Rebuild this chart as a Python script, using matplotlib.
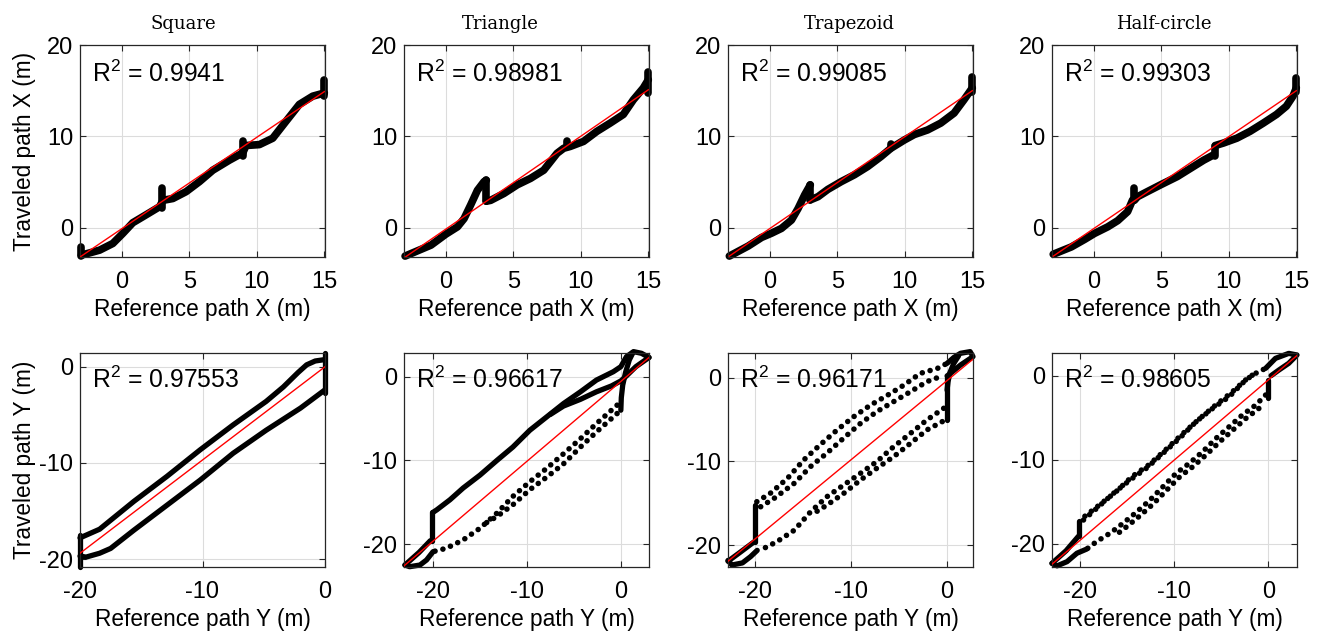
import matplotlib.pyplot as plt

plt.rcParams['font.family'] = ['Liberation Sans', 'DejaVu Sans']
plt.rcParams['mathtext.fontset'] = 'custom'
plt.rcParams['mathtext.rm'] = 'Liberation Sans'
plt.rcParams['axes.unicode_minus'] = False

shapes = ['Square', 'Triangle', 'Trapezoid', 'Half-circle']
r2_x = ['0.9941', '0.98981', '0.99085', '0.99303']
r2_y = ['0.97553', '0.96617', '0.96171', '0.98605']

# ---- X direction (top row): (reference, traveled) runs
sqx_runs = [
    ([-3.0, -1.65, -0.67, 0.07, 0.81, 1.55, 2.79, 3.05, 3.78, 4.76, 5.75, 6.74, 7.97, 8.96,
      9.2, 10.19, 11.18, 12.16, 13.15, 14.14, 15.0],
     [-3.0, -2.45, -1.72, -0.62, 0.55, 1.2, 2.3, 3.0, 3.2, 3.95, 5.05, 6.3, 7.4, 8.2,
      9.0, 9.1, 9.8, 11.65, 13.5, 14.4, 14.75]),
]
sqx_jumps = [(-3.0, -3.1, -2.1), (3.0, 2.2, 4.3), (9.0, 7.9, 9.45), (15.0, 14.4, 16.2)]

trx_runs = [
    ([-3.02, -1.1, 0.0, 0.86, 1.35, 1.84, 2.34, 2.83, 3.0],
     [-3.1, -1.9, -0.7, 0.1, 1.0, 2.5, 4.1, 5.05, 5.2]),
    ([3.0, 3.32, 4.3, 5.29, 6.27, 7.25, 8.24, 8.73, 9.22, 10.2, 11.19, 12.17, 13.15, 13.89,
      14.63, 15.0],
     [2.9, 3.0, 3.75, 4.7, 5.4, 6.3, 8.15, 8.7, 8.9, 9.45, 10.55, 11.45, 12.4, 14.0,
      15.3, 16.2]),
]
trx_jumps = [(3.0, 2.9, 5.2), (9.0, 8.9, 9.5), (15.0, 14.8, 17.0)]

tzx_runs = [
    ([-3.0, -1.6, -0.61, 0.12, 0.86, 1.6, 2.09, 2.58, 3.0],
     [-3.1, -2.0, -1.06, -0.6, -0.07, 0.84, 2.1, 3.6, 4.7]),
    ([3.0, 3.57, 4.3, 5.29, 6.27, 7.25, 8.24, 8.97, 9.96, 10.7, 11.68, 12.66, 13.65, 14.38, 15.0],
     [3.05, 3.4, 4.2, 5.05, 5.8, 6.7, 7.8, 8.7, 9.6, 10.2, 10.7, 11.45, 12.55, 14.0, 15.3]),
]
tzx_jumps = [(3.0, 3.0, 4.7), (9.0, 8.7, 9.2), (15.0, 14.9, 16.5)]

hcx_runs = [
    ([-3.01, -1.67, -0.69, 0.05, 1.03, 1.76, 2.5, 2.87],
     [-2.9, -2.1, -1.28, -0.62, 0.1, 0.77, 1.76, 3.04]),
    ([3.0, 3.24, 3.97, 4.95, 6.18, 7.16, 8.14, 8.9],
     [3.0, 3.4, 3.96, 4.7, 5.6, 6.5, 7.4, 8.0]),
    ([9.0, 9.6, 10.59, 11.57, 12.55, 13.53, 14.26, 14.75, 15.0],
     [9.0, 9.27, 9.8, 10.55, 11.45, 12.4, 13.3, 14.4, 15.3]),
]
hcx_jumps = [(3.0, 3.0, 4.3), (9.0, 7.8, 9.0), (15.0, 14.9, 16.4)]

fit_x = [((-3.1, 15.0), (-3.2, 14.9)), ((-3.0, 15.0), (-3.2, 15.1)),
         ((-3.0, 15.0), (-3.1, 15.0)), ((-3.0, 15.0), (-3.1, 15.0))]

# ---- Y direction (bottom row)
sqy_runs = [
    ([-20.0, -18.4, -15.6, -12.9, -10.2, -7.5, -4.8, -3.4, -2.2, -1.5, -0.8, 0.0],
     [-17.8, -16.9, -14.0, -11.4, -8.65, -6.05, -3.6, -2.1, -0.6, 0.2, 0.6, 0.75]),
    ([0.0, -2.0, -4.8, -7.5, -10.2, -12.9, -15.6, -17.5, -18.4, -19.5, -20.0],
     [-2.4, -4.3, -6.6, -9.0, -11.8, -14.4, -17.0, -18.9, -19.4, -19.8, -19.7]),
]
sqy_dots = []
sqy_jumps = [(-20.0, -20.8, -17.5), (0.0, -2.7, 1.4)]

try_runs = [
    ([-23.0, -21.5, -20.3], [-22.5, -21.0, -19.6]),
    ([-23.0, -22.5, -21.4, -20.7, -20.0], [-22.5, -22.7, -22.5, -21.9, -20.9]),
    ([-20.0, -19.6, -18.2, -16.8, -15.0, -13.2, -11.5, -9.7, -7.9, -6.1, -4.3, -2.6, -0.8,
      0.0, 0.6, 1.35, 2.2, 3.0],
     [-16.2, -15.9, -14.7, -13.3, -11.75, -10.0, -8.4, -6.4, -4.8, -3.2, -1.8, -0.4, 0.6,
      1.2, 2.4, 3.0, 2.8, 2.3]),
    ([3.0, 1.6, 0.5, 0.0, -1.0, -2.6, -4.3, -6.1, -7.5],
     [2.3, 1.2, 0.0, -0.5, -1.1, -1.8, -2.7, -3.5, -4.5]),
    ([0.0, 0.05, 0.2, 0.5, 0.9, 1.3], [-4.0, -2.5, -1.0, 0.5, 2.0, 2.9]),
]
try_dots = [
    ([-0.4, -2.6, -4.3, -6.1, -7.9, -9.7, -11.5, -13.2, -15.0, -16.8, -18.6, -20.0],
     [-3.4, -5.6, -7.4, -9.2, -10.95, -12.55, -14.3, -16.3, -18.1, -19.5, -20.5, -20.9]),
    ([-0.4, -2.6, -4.3, -6.1, -7.9, -9.7, -11.5, -13.2, -14.7],
     [-4.4, -6.6, -8.4, -10.4, -12.0, -13.5, -15.3, -16.7, -17.7]),
]
try_jumps = [(-20.1, -19.6, -16.2)]

tzy_runs = [
    ([-22.8, -21.5, -20.1], [-21.9, -20.8, -19.6]),
    ([-22.8, -22.4, -21.3, -20.45, -19.76], [-21.8, -22.35, -22.1, -21.35, -20.6]),
    ([0.0, 0.7, 1.4, 2.4, 2.7, 1.4, 0.35, 0.0], [1.7, 2.4, 2.9, 3.1, 2.5, 1.5, 0.5, 0.2]),
    ([0.0, 0.1, 0.3, 0.7, 1.2], [-1.5, -0.5, 0.6, 1.7, 2.6]),
]
tzy_dots = [
    ([-19.8, -18.4, -16.6, -14.9, -13.2, -11.4, -9.7, -8.0, -6.2, -4.5, -2.8, -1.0, 0.0],
     [-14.8, -13.8, -12.0, -9.8, -8.0, -6.2, -4.65, -3.3, -2.1, -0.9, 0.5, 1.1, 1.7]),
    ([-19.4, -18.0, -15.9, -14.2, -12.5, -10.75, -9.0, -7.3, -5.55, -3.8, -2.1, -0.7],
     [-15.4, -14.4, -12.6, -10.6, -9.0, -7.2, -5.45, -4.05, -2.86, -1.67, -0.48, 0.12]),
    ([-0.35, -2.1, -3.8, -5.55, -7.3, -9.0, -10.75, -12.5, -14.2, -15.9, -17.7, -19.4],
     [-3.66, -5.05, -6.64, -8.23, -10.0, -11.4, -12.8, -14.2, -16.0, -18.2, -19.56, -20.56]),
    ([-0.5, -2.1, -3.8, -5.55, -7.3, -9.0, -10.75, -12.5, -13.9],
     [-5.25, -6.24, -7.83, -9.42, -10.8, -12.2, -13.8, -15.2, -16.2]),
]
tzy_jumps = [(-20.0, -19.6, -15.2), (0.0, -5.0, 0.1)]

hcy_runs = [
    ([-23.0, -21.5, -20.2], [-22.3, -20.8, -19.1]),
    ([-23.0, -22.46, -21.4, -20.35, -19.3], [-22.3, -22.6, -22.1, -21.1, -20.6]),
    ([-0.28, 0.77, 2.18, 3.06, 2.18, 1.13, 0.3], [0.87, 2.06, 2.65, 2.46, 1.47, 0.67, 0.0]),
]
hcy_dots = [
    ([-19.65, -18.24, -16.48, -14.7, -12.96, -11.2, -9.44, -7.68, -5.9, -4.15, -2.39, -1.34, -0.28],
     [-17.15, -15.76, -14.0, -12.4, -11.0, -9.23, -7.45, -5.47, -3.88, -2.5, -0.5, 0.28, 0.87]),
    ([-19.5, -18.0, -16.2, -14.5, -12.7, -11.0, -9.2, -7.4, -5.6, -3.9, -2.1, -1.0],
     [-16.7, -15.4, -13.8, -12.0, -10.6, -8.9, -7.0, -5.2, -3.5, -2.0, -0.2, 0.5]),
    ([-0.28, -1.34, -2.75, -4.15, -5.56, -6.97, -8.38, -9.8, -11.2, -12.6, -14.0, -15.4, -16.8,
      -18.24, -19.3],
     [-2.3, -3.5, -4.67, -6.06, -7.45, -9.03, -10.4, -11.6, -13.2, -14.8, -16.2, -17.5, -18.7,
      -19.7, -20.6]),
    ([-1.0, -2.4, -3.8, -5.2, -6.6, -8.0, -9.4, -10.8, -12.2, -13.6, -15.0, -16.4],
     [-3.9, -5.1, -6.5, -7.9, -9.4, -10.8, -12.0, -13.6, -15.2, -16.6, -17.9, -19.1]),
]
hcy_jumps = [(-20.1, -19.1, -17.3), (0.0, -2.7, -0.5)]

fit_y = [((-20.0, 0.0), (-19.4, 0.0)), ((-23.1, 3.0), (-22.6, 2.3)),
         ((-22.8, 2.7), (-21.9, 2.2)), ((-23.0, 3.06), (-22.4, 2.4))]

xlim_y = [(-20.0, 0.0), (-23.1, 3.0), (-22.8, 2.7), (-23.0, 3.06)]
ylim_y = [(-20.8, 1.4), (-22.7, 2.8), (-22.55, 2.9), (-22.7, 2.66)]

top_data = [(sqx_runs, [], sqx_jumps), (trx_runs, [], trx_jumps),
            (tzx_runs, [], tzx_jumps), (hcx_runs, [], hcx_jumps)]
bot_data = [(sqy_runs, sqy_dots, sqy_jumps), (try_runs, try_dots, try_jumps),
            (tzy_runs, tzy_dots, tzy_jumps), (hcy_runs, hcy_dots, hcy_jumps)]

fig = plt.figure(figsize=(13.24, 6.41), dpi=100)
lefts = [80, 404, 728, 1052]
title_cx = [183, 500, 849, 1164]


def style_axes(ax):
    for s in ax.spines.values():
        s.set_color('#262626')
        s.set_linewidth(0.9)
    ax.tick_params(direction='in', length=4, width=0.8, color='#262626',
                   top=True, right=True, labelsize=17)
    ax.tick_params(axis='x', pad=10)
    ax.tick_params(axis='y', pad=5)
    ax.grid(True, color='#dcdcdc', lw=0.8)
    ax.set_axisbelow(True)


def draw_path(ax, runs, dots, jumps, lw):
    for xs, ys in runs:
        ax.plot(xs, ys, color='k', lw=lw, solid_capstyle='round',
                solid_joinstyle='round', clip_on=False, zorder=2)
    for xs, ys in dots:
        ax.plot(xs, ys, color='k', lw=4.0, linestyle=(0, (0.01, 1.45)),
                dash_capstyle='round', clip_on=False, zorder=2)
    for x, y0, y1 in jumps:
        ax.plot([x, x], [y0, y1], color='k', lw=lw, solid_capstyle='round',
                clip_on=False, zorder=2)


for i in range(4):
    # top row: X
    ax = fig.add_axes([lefts[i] / 1324, (641 - 257) / 641, 245 / 1324, 212 / 641])
    runs, dots, jumps = top_data[i]
    draw_path(ax, runs, dots, jumps, 5.5)
    ax.plot(fit_x[i][0], fit_x[i][1], color='#ff0000', lw=1.0, zorder=3)
    ax.set_xlim(-3.1, 15.05)
    ax.set_ylim(-3.2, 20)
    ax.set_xticks([0, 5, 10, 15])
    ax.set_yticks([0, 10, 20])
    style_axes(ax)
    ax.set_xlabel('Reference path X (m)', fontsize=16.3, labelpad=4)
    if i == 0:
        ax.set_ylabel('Traveled path X (m)', fontsize=16.3)
        ax.yaxis.set_label_coords(-0.18, 0.5)
    ax.text(0.05, 0.865, r'$\mathregular{R^2}$ = ' + r2_x[i], transform=ax.transAxes,
            fontsize=17.8, va='center', ha='left')
    fig.text(title_cx[i] / 1324, (641 - 29) / 641, shapes[i], family='DejaVu Serif',
             fontsize=13, ha='center', va='baseline')

    # bottom row: Y
    ax = fig.add_axes([lefts[i] / 1324, (641 - 566.7) / 641, 245 / 1324, 213.4 / 641])
    runs, dots, jumps = bot_data[i]
    draw_path(ax, runs, dots, jumps, 3.8)
    ax.plot(fit_y[i][0], fit_y[i][1], color='#ff0000', lw=1.0, zorder=3)
    ax.set_xlim(*xlim_y[i])
    ax.set_ylim(*ylim_y[i])
    ax.set_xticks([-20, -10, 0])
    ax.set_yticks([-20, -10, 0])
    style_axes(ax)
    ax.set_xlabel('Reference path Y (m)', fontsize=16.3, labelpad=4)
    if i == 0:
        ax.set_ylabel('Traveled path Y (m)', fontsize=16.3)
        ax.yaxis.set_label_coords(-0.18, 0.5)
    ax.text(0.05, 0.875, r'$\mathregular{R^2}$ = ' + r2_y[i], transform=ax.transAxes,
            fontsize=17.8, va='center', ha='left')

fig.savefig('out.png', dpi=100)
